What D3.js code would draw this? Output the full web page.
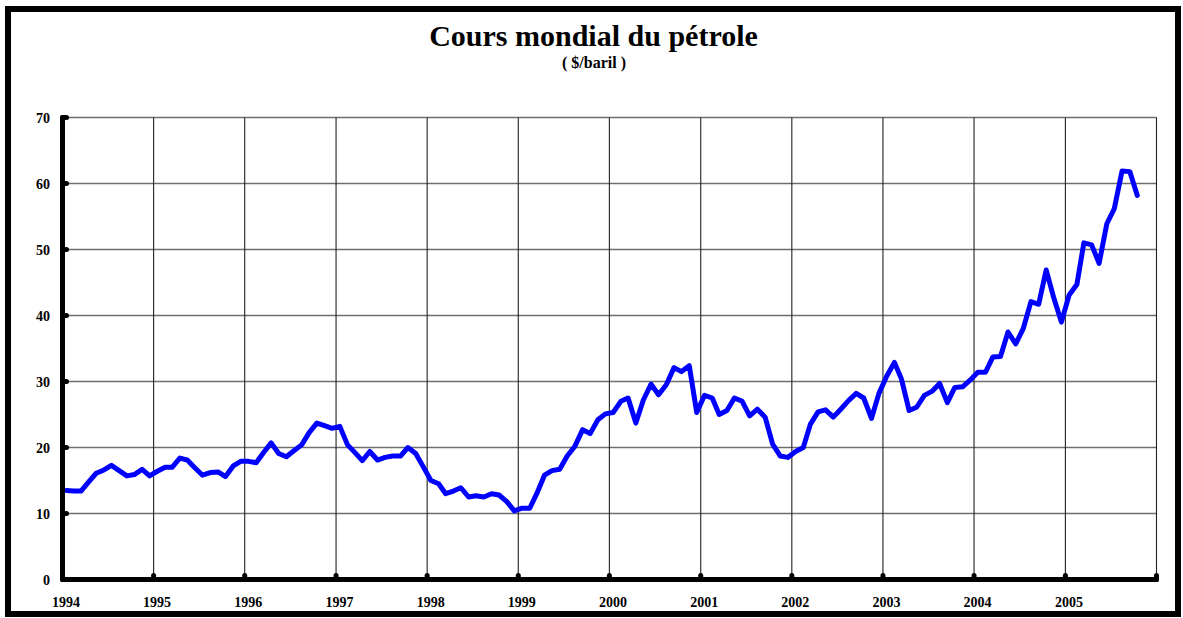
<!DOCTYPE html>
<html>
<head>
<meta charset="utf-8">
<script src="https://cdn.jsdelivr.net/npm/d3@7"></script>
<style>
    body { margin: 0; background: #fff; }
    text { font-family: "Liberation Serif", "Times New Roman", serif; font-weight: bold; }
</style>
</head>
<body>
<div id="chart"></div>
<script>

// Monthly world oil price ($/barrel), Jan 1994 .. Oct 2005
var startYear = 1994;
var monthlyPrices = [
    13.5, 13.4, 13.4, 14.8, 16.1, 16.6, 17.3, 16.5, 15.7, 15.9, 16.7, 15.7,
    16.4, 17.0, 17.0, 18.4, 18.1, 16.9, 15.8, 16.2, 16.3, 15.6, 17.2, 17.9,
    17.9, 17.7, 19.2, 20.7, 19.1, 18.6, 19.5, 20.4, 22.3, 23.7, 23.3, 22.9,
    23.2, 20.4, 19.3, 18.0, 19.4, 18.1, 18.5, 18.7, 18.7, 20.0, 19.1, 17.1,
    15.0, 14.5, 13.0, 13.4, 13.9, 12.5, 12.7, 12.5, 13.0, 12.8, 11.8, 10.4,
    10.8, 10.8, 13.0, 15.8, 16.5, 16.7, 18.7, 20.2, 22.7, 22.1, 24.2, 25.1,
    25.3, 27.0, 27.5, 23.7, 27.2, 29.6, 28.0, 29.5, 32.1, 31.5, 32.4, 25.3,
    27.9, 27.5, 25.0, 25.6, 27.5, 27.0, 24.8, 25.8, 24.6, 20.5, 18.7, 18.5,
    19.4, 20.0, 23.5, 25.4, 25.7, 24.6, 25.8, 27.1, 28.2, 27.5, 24.4, 28.2,
    30.8, 32.9, 30.4, 25.6, 26.1, 27.9, 28.5, 29.7, 26.8, 29.1, 29.2, 30.2,
    31.4, 31.4, 33.7, 33.8, 37.5, 35.7, 38.0, 42.1, 41.7, 46.9, 42.6, 39.0,
    43.1, 44.7, 51.0, 50.7, 47.9, 53.9, 56.2, 61.9, 61.8, 58.2
];
var yearLabels = ['1994', '1995', '1996', '1997', '1998', '1999',
    '2000', '2001', '2002', '2003', '2004', '2005'];
var yTicks = [0, 10, 20, 30, 40, 50, 60, 70];

var title = 'Cours mondial du pétrole';
var subtitle = '( $/baril )';

var width = 1183;
var height = 618;
var margin = {top: 117.5, left: 62.5, right: 26.5, bottom: 38.5};

var svg = d3.select('#chart').append('svg')
    .attr('width', width)
    .attr('height', height);

// Outer frame
svg.append('rect')
    .attr('x', 8)
    .attr('y', 9)
    .attr('width', 1170)
    .attr('height', 605)
    .attr('fill', '#fff')
    .attr('stroke', '#000')
    .attr('stroke-width', 6);

svg.append('text')
    .attr('x', 593.5)
    .attr('y', 46)
    .attr('text-anchor', 'middle')
    .attr('font-size', 30)
    .text(title);

svg.append('text')
    .attr('x', 594)
    .attr('y', 68)
    .attr('text-anchor', 'middle')
    .attr('font-size', 16)
    .text(subtitle);

var x0 = margin.left;
var x1 = width - margin.right;
var y0 = height - margin.bottom;
var y1 = margin.top;

var data = monthlyPrices.map(function (v, i) {
    return {date: new Date(Date.UTC(startYear, i, 16)), value: v};
});

var xScale = d3.scaleUtc()
    .domain([new Date(Date.UTC(startYear, 0, 1)), new Date(Date.UTC(startYear + yearLabels.length, 0, 1))])
    .range([x0, x1]);

var yScale = d3.scaleLinear()
    .domain([0, 70])
    .range([y0, y1]);

var yearDates = d3.range(yearLabels.length + 1).map(function (i) {
    return new Date(Date.UTC(startYear + i, 0, 1));
});

var g = svg.append('g');

// Horizontal grid
g.selectAll('.hgrid')
    .data(yTicks.slice(1)).enter()
    .append('line')
        .attr('class', 'hgrid')
        .attr('x1', x0)
        .attr('x2', x1)
        .attr('y1', function (d) { return yScale(d); })
        .attr('y2', function (d) { return yScale(d); })
        .attr('stroke', '#6e6e6e')
        .attr('stroke-width', 1.6);

// Vertical grid (one per year)
g.selectAll('.vgrid')
    .data(yearDates.slice(1)).enter()
    .append('line')
        .attr('class', 'vgrid')
        .attr('x1', function (d) { return xScale(d); })
        .attr('x2', function (d) { return xScale(d); })
        .attr('y1', y1)
        .attr('y2', y0)
        .attr('stroke', '#222')
        .attr('stroke-width', 1.1);

// Price line
var plotLine = d3.line()
    .x(function (d) { return xScale(d.date); })
    .y(function (d) { return yScale(d.value); });

g.append('path')
    .datum(data)
    .attr('fill', 'none')
    .attr('stroke', '#0000ff')
    .attr('stroke-width', 5)
    .attr('stroke-linejoin', 'round')
    .attr('stroke-linecap', 'round')
    .attr('d', plotLine);

// Axes: thick black lines with round tick bumps
var axes = svg.append('g')
    .attr('stroke', '#000')
    .attr('stroke-linecap', 'round');

axes.append('line')
    .attr('x1', x0).attr('x2', x0)
    .attr('y1', y1).attr('y2', y0)
    .attr('stroke-width', 5);

axes.append('line')
    .attr('x1', x0).attr('x2', x1)
    .attr('y1', y0).attr('y2', y0)
    .attr('stroke-width', 5);

axes.selectAll('.ytick')
    .data(yTicks.slice(1)).enter()
    .append('line')
        .attr('x1', x0)
        .attr('x2', x0 + 4)
        .attr('y1', function (d) { return yScale(d); })
        .attr('y2', function (d) { return yScale(d); })
        .attr('stroke-width', 5);

axes.selectAll('.xtick')
    .data(yearDates.slice(1)).enter()
    .append('line')
        .attr('x1', function (d) { return xScale(d); })
        .attr('x2', function (d) { return xScale(d); })
        .attr('y1', y0)
        .attr('y2', y0 - 4)
        .attr('stroke-width', 5);

// Tick labels
svg.selectAll('.ylabel')
    .data(yTicks).enter()
    .append('text')
        .attr('x', 50)
        .attr('y', function (d) { return yScale(d) + 5; })
        .attr('text-anchor', 'end')
        .attr('font-size', 14)
        .text(function (d) { return d; });

svg.selectAll('.xlabel')
    .data(yearLabels).enter()
    .append('text')
        .attr('x', function (d, i) { return xScale(yearDates[i]) + 3.5; })
        .attr('y', 607)
        .attr('text-anchor', 'middle')
        .attr('font-size', 14)
        .text(function (d) { return d; });

</script>
</body>
</html>
